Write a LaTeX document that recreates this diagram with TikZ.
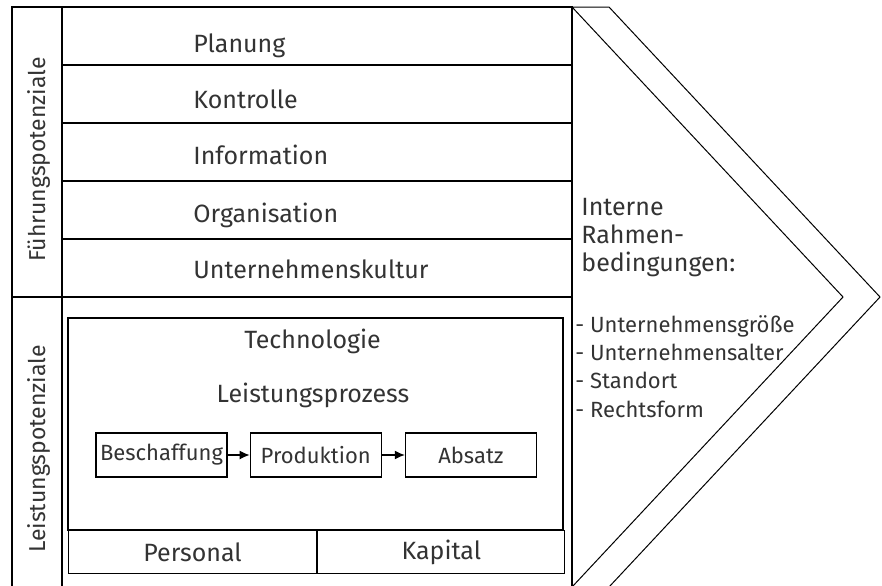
\documentclass[tikz,border=0pt]{standalone}
\usepackage{fontspec}
\setmainfont{Fira Sans}
\usetikzlibrary{positioning,arrows.meta}

\begin{document}
\begin{tikzpicture}[
    x=0.5pt, y=-0.5pt,
    font=\fontsize{12.5}{14}\selectfont,
    >={Latex[length=5pt,width=4.5pt]},
    frame/.style ={line width=1pt},
    rule/.style  ={line width=0.7pt},
    txt/.style   ={text=black!80, inner sep=0pt},
    small/.style ={font=\fontsize{11}{14.15}\selectfont},
    side/.style  ={txt, rotate=90, anchor=base, font=\fontsize{11.5}{14}\selectfont},
    cell/.style  ={draw, line width=0.6pt, text=black!80, minimum height=21.5pt},
    proc/.style  ={draw, line width=0.6pt, text=black!80, inner sep=1pt, small,
                   minimum width=65.5pt, minimum height=22pt},
    flow/.style  ={->, line width=0.6pt},
    chev/.style  ={line width=0.5pt, line join=miter},
  ]
  \useasboundingbox (0,0) rectangle (882,585);
  \clip (0,0) rectangle (882,585);

  % ------------------------------------------------------------ frame ---
  \draw[frame] (12,7) rectangle (572,587);
  \draw[frame] (62,7) -- (62,587);
  \draw[frame] (12,297) -- (572,297);

  % ------------------------------------------------ Fuehrungspotenziale ---
  \draw[rule] (62,65)  -- (572,65);
  \draw[rule] (62,123) -- (572,123);
  \draw[rule] (62,181) -- (572,181);
  \draw[rule] (62,239) -- (572,239);

  \node[side] (fuehr) at (45,159.5) {Führungspotenziale};
  \node[txt, anchor=base west] (plan)   at (193,52)  {Planung};
  \node[txt, anchor=base west] (kontr)  at (193,108) {Kontrolle};
  \node[txt, anchor=base west] (info)   at (193,164) {Information};
  \node[txt, anchor=base west] (orga)   at (193,222) {Organisation};
  \node[txt, anchor=base west] (kultur) at (193,278) {Unternehmenskultur};

  % ------------------------------------------------ Leistungspotenziale ---
  \node[side] (leist) at (45,449) {Leistungspotenziale};
  \draw[rule, line width=0.6pt] (68,318) rectangle (563,530);

  \node[txt, anchor=base] (tech)  at (312.5,348) {Technologie};
  \node[txt, anchor=base] (lproz) at (313,402)   {Leistungsprozess};

  \node[proc] (besch) at (161.5,455) {Beschaffung};
  \node[proc, right=11pt of besch] (prod)   {Produktion};
  \node[proc, right=11.5pt of prod] (absatz) {Absatz};

  \draw[flow] (besch) -- (prod);
  \draw[flow] (prod)  -- (absatz);

  \node[cell, minimum width=124pt, anchor=north west] (pers) at (68,530) {Personal};
  \node[cell, minimum width=123.5pt, anchor=north west] (kap) at (pers.north east) {Kapital};

  % ---------------------------------------------------------- chevron ---
  \draw[chev] (572,7) -- (609,7) -- (880,297) -- (609,587) -- (572,587)
        -- (843,297) -- cycle;

  \node[txt, anchor=north west, align=left] (rahmen) at (581,198)
        {Interne\\Rahmen-\\bedingungen:};
  \node[txt, small, anchor=north west, align=left] (faktoren) at (575,315)
        {- Unternehmensgröße\\- Unternehmensalter\\- Standort\\- Rechtsform};

\end{tikzpicture}
\end{document}
